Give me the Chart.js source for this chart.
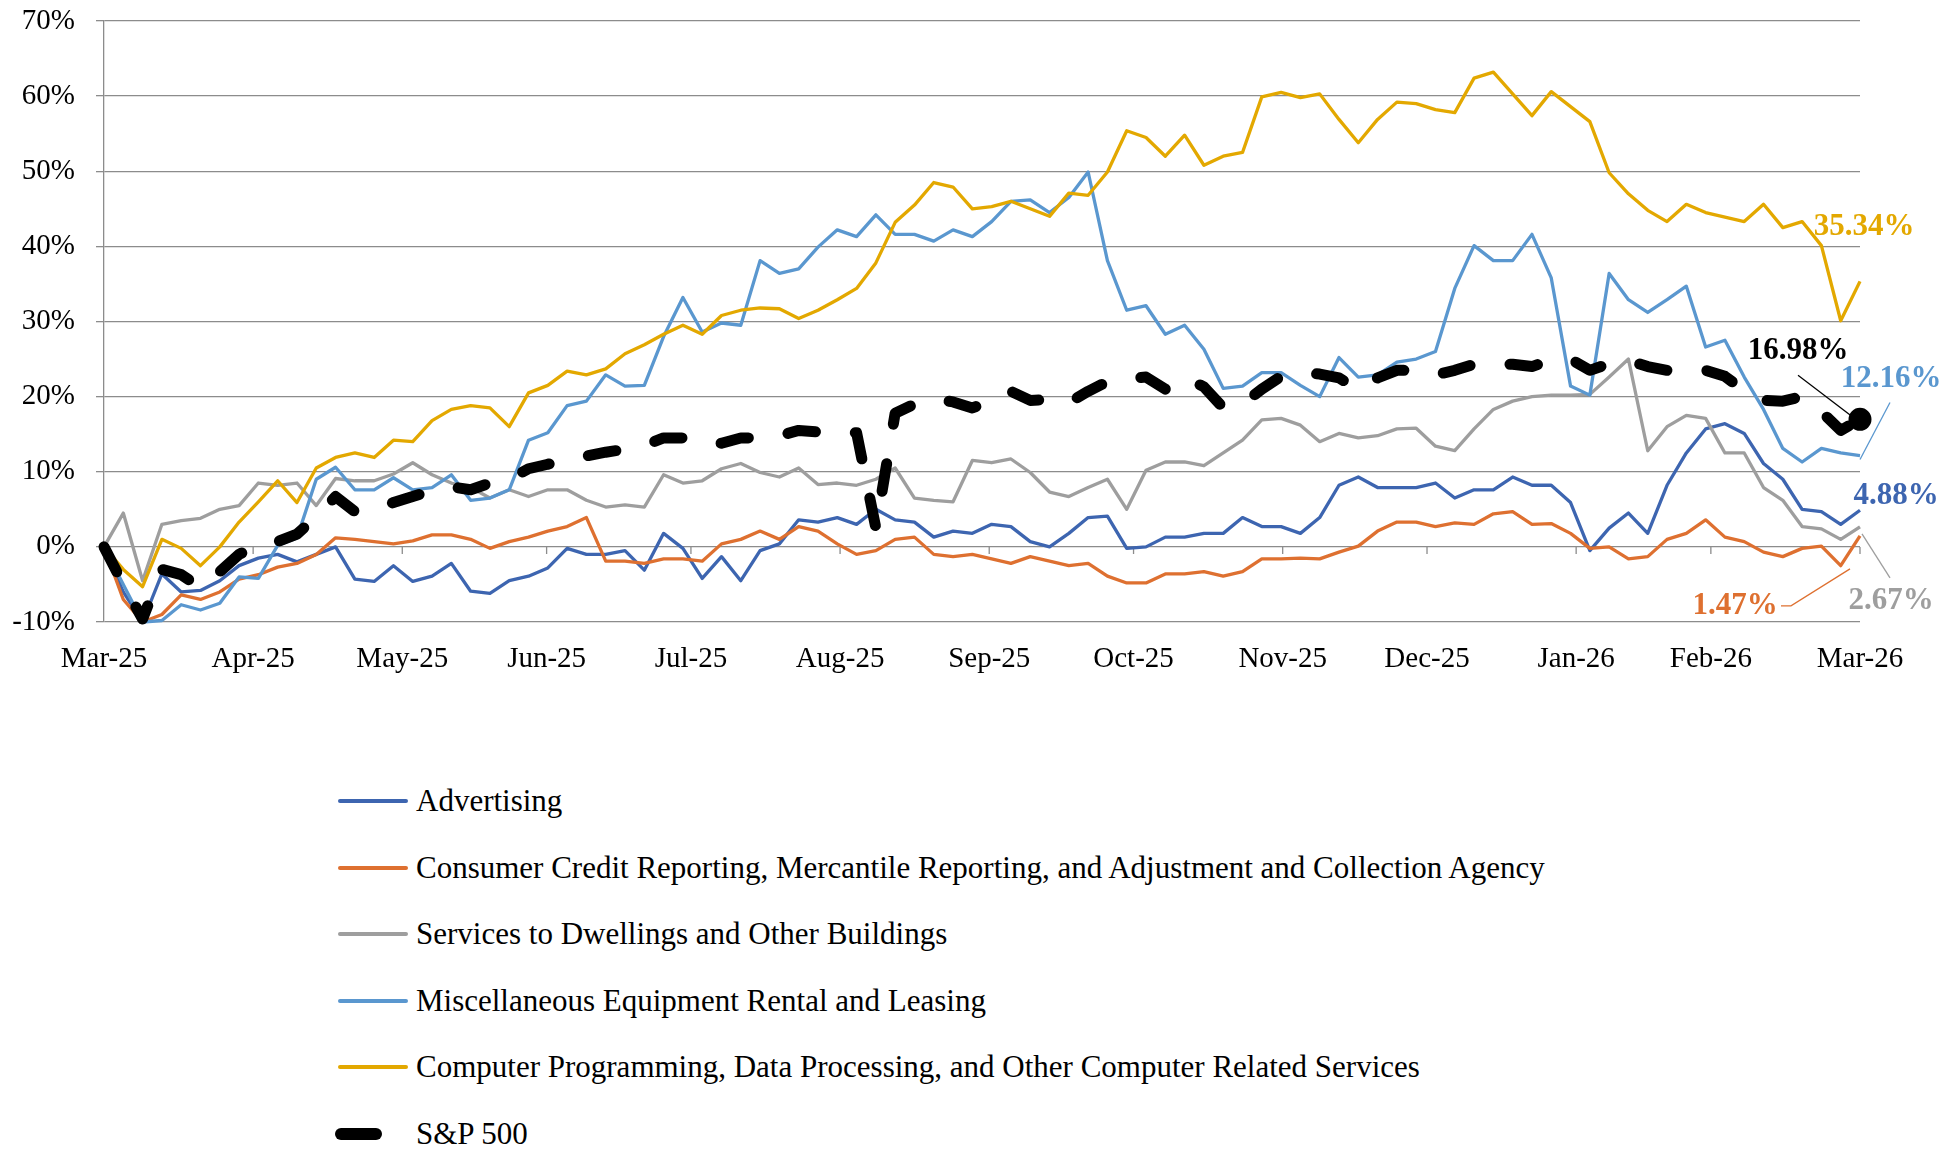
<!DOCTYPE html>
<html>
<head>
<meta charset="utf-8">
<title>Industry returns vs S&amp;P 500</title>
<script src="https://cdn.jsdelivr.net/npm/chart.js@4.4.1/dist/chart.umd.min.js"></script>
<style>
  body { margin: 0; background: #fff; }
  #wrap { position: relative; width: 1953px; height: 1149px; overflow: hidden; }
  #chart { position: absolute; left: 0; top: 0; }
  #legend {
    position: absolute; left: 335px; top: 768px; margin: 0; padding: 0; list-style: none;
    font-family: 'Liberation Serif', serif; font-size: 31px; color: #000;
  }
  #legend li { position: relative; height: 66.5px; line-height: 66.5px; padding-left: 81px; white-space: nowrap; }
  #legend .swatch { position: absolute; top: 50%; }
</style>
</head>
<body>
<div id="wrap">
  <canvas id="chart" width="1953" height="700"></canvas>
  <ul id="legend"></ul>
</div>
<script>
// month ticks (day offset from start) and their labels
const monthDays = [0, 31, 62, 92, 122, 153, 184, 214, 245, 275, 306, 334, 365];
const monthLabels = ["Mar-25", "Apr-25", "May-25", "Jun-25", "Jul-25", "Aug-25", "Sep-25",
                     "Oct-25", "Nov-25", "Dec-25", "Jan-26", "Feb-26", "Mar-26"];

// cumulative return (%), sampled about every 4 days from Mar-25 to Mar-26
const advertising = [
  0, -6, -10, -3.6, -6, -5.8, -4.5, -2.5, -1.5, -1.0,
  -2.0, -1.0, 0, -4.3, -4.6, -2.5, -4.6, -3.9, -2.2, -5.9,
  -6.2, -4.5, -3.9, -2.8, -0.2, -1.0, -1.0, -0.5, -3.1, 1.8,
  -0.2, -4.2, -1.3, -4.5, -0.5, 0.4, 3.6, 3.3, 3.9, 3.0,
  5.0, 3.6, 3.3, 1.3, 2.1, 1.8, 3.0, 2.7, 0.7, 0.0,
  1.8, 3.9, 4.1, -0.2, 0, 1.3, 1.3, 1.8, 1.8, 3.9,
  2.7, 2.7, 1.8, 3.9, 8.2, 9.3, 7.9, 7.9, 7.9, 8.5,
  6.5, 7.6, 7.6, 9.3, 8.2, 8.2, 5.9, -0.5, 2.5, 4.5,
  1.8, 8.2, 12.5, 15.7, 16.4, 15.1, 11.1, 9.0, 5.0, 4.7,
  3.0, 4.88
];
const creditReporting = [
  0, -7, -10, -9.0, -6.4, -7.0, -6.0, -4.3, -3.7, -2.7,
  -2.2, -1.0, 1.2, 1.0, 0.7, 0.4, 0.8, 1.6, 1.6, 1.0,
  -0.2, 0.7, 1.3, 2.1, 2.7, 3.9, -1.9, -1.9, -2.2, -1.6,
  -1.6, -1.9, 0.4, 1.0, 2.1, 1.0, 2.7, 2.1, 0.4, -1.0,
  -0.5, 1.0, 1.3, -1.0, -1.3, -1.0, -1.6, -2.2, -1.3, -1.9,
  -2.5, -2.2, -3.9, -4.8, -4.8, -3.6, -3.6, -3.3, -3.9, -3.3,
  -1.6, -1.6, -1.5, -1.6, -0.7, 0.1, 2.1, 3.3, 3.3, 2.7,
  3.2, 3.0, 4.4, 4.7, 3.0, 3.1, 1.8, -0.2, 0, -1.6,
  -1.3, 1.0, 1.8, 3.6, 1.3, 0.7, -0.7, -1.3, -0.2, 0.1,
  -2.5, 1.47
];
const dwellingServices = [
  0, 4.5, -4.5, 3, 3.5, 3.8, 5, 5.5, 8.5, 8.2,
  8.5, 5.5, 9.1, 8.8, 8.8, 9.7, 11.2, 9.6, 8.5, 7.9,
  6.5, 7.6, 6.7, 7.6, 7.6, 6.2, 5.3, 5.6, 5.3, 9.6,
  8.5, 8.8, 10.4, 11.1, 9.9, 9.3, 10.5, 8.3, 8.5, 8.2,
  9.0, 10.5, 6.5, 6.2, 6.0, 11.5, 11.2, 11.7, 9.9, 7.3,
  6.7, 7.9, 9.0, 5, 10.2, 11.3, 11.3, 10.8, 12.5, 14.2,
  16.9, 17.1, 16.2, 14, 15.1, 14.5, 14.8, 15.7, 15.8, 13.4,
  12.8, 15.7, 18.3, 19.4, 20.0, 20.2, 20.2, 20.3, 22.6, 25,
  12.8, 16.0, 17.5, 17.1, 12.5, 12.5, 7.9, 6.2, 2.7, 2.4,
  1.0, 2.67
];
const equipmentRental = [
  0, -5, -10, -9.8, -7.7, -8.4, -7.5, -4, -4.2, 0.2,
  1.2, 9, 10.6, 7.6, 7.6, 9.2, 7.6, 7.9, 9.6, 6.2,
  6.5, 7.6, 14.2, 15.2, 18.8, 19.4, 22.9, 21.4, 21.5, 28,
  33.2, 28.6, 29.8, 29.5, 38.1, 36.4, 37, 39.9, 42.2, 41.3,
  44.2, 41.6, 41.6, 40.7, 42.2, 41.3, 43.3, 46, 46.2, 44.5,
  46.5, 49.9, 38.1, 31.5, 32.1, 28.3, 29.5, 26.3, 21.1, 21.4,
  23.2, 23.2, 21.5, 20, 25.2, 22.6, 22.9, 24.6, 25.0, 26,
  34.4, 40.1, 38.1, 38.1, 41.6, 35.8, 21.4, 20.2, 36.4, 32.9,
  31.2, 32.9, 34.7, 26.6, 27.5, 22.6, 18.3, 13.1, 11.3, 13.1,
  12.5, 12.16
];
const computerServices = [
  0, -3, -5.3, 1, -0.2, -2.5, 0, 3.3, 6, 8.8,
  5.9, 10.5, 11.9, 12.5, 11.9, 14.2, 14, 16.8, 18.3, 18.8,
  18.5, 16.0, 20.5, 21.5, 23.4, 22.9, 23.7, 25.7, 26.9, 28.3,
  29.5, 28.3, 30.8, 31.5, 31.8, 31.7, 30.4, 31.5, 32.9, 34.4,
  37.8, 43.2, 45.5, 48.5, 47.9, 45.0, 45.3, 46, 45.0, 44,
  47.1, 46.8, 49.9, 55.4, 54.5, 52.0, 54.8, 50.8, 52.0, 52.5,
  59.9, 60.5, 59.8, 60.3, 56.9, 53.8, 56.9, 59.2, 59.0, 58.2,
  57.8, 62.4, 63.2, 60.3, 57.4, 60.6, 58.6, 56.6, 49.8, 47,
  44.8, 43.3, 45.6, 44.5, 43.9, 43.3, 45.6, 42.5, 43.3, 40.1,
  30.1, 35.34
];
const sp500 = [
  0, -5, -9.6, -3, -3.7, -5.4, -3.3, -1.0, 0.3, 0.7,
  1.7, 4, 6.7, 4.7, 5, 5.9, 6.7, 7.5, 8, 7.6,
  8.5, 9, 10.4, 11, 11.5, 12.1, 12.6, 13, 13.5, 14.5,
  14.5, 13.7, 13.8, 14.5, 14.5, 14.8, 15.5, 15.3, 15, 15.2,
  2.5, 17.8, 19, 19.7, 19.3, 18.5, 19.5, 20.7, 19.5, 19.6,
  19.2, 20.7, 22, 22.4, 22.6, 21, 22.6, 21.3, 18.5, 19,
  21, 22.7, 23.2, 23, 22.5, 20.9, 22.5, 23.5, 23.5, 22.9,
  23.5, 24.3, 24.3, 24.3, 24, 24.9, 25, 23.5, 24.4, 24.8,
  24, 23.5, 23.6, 23.5, 22.7, 20.8, 19.5, 19.4, 20, 18,
  15.5, 16.98
];

const totalDays = 365;
const step = totalDays / (sp500.length - 1);

function toPoints(values) {
    return values.map((v, i) => ({ x: i * step, y: v }));
}

const serifFont = "'Liberation Serif', 'Times New Roman', serif";
Chart.defaults.font.family = serifFont;
Chart.defaults.font.size = 29;
Chart.defaults.color = "#000";

function lineSet(label, values, color, order, tag) {
    return {
        label: label,
        data: toPoints(values),
        borderColor: color,
        backgroundColor: color,
        borderWidth: 3.3,
        pointRadius: 0,
        tension: 0,
        borderJoinStyle: "round",
        clip: false,
        order: order,
        endTag: tag
    };
}

const datasets = [
    lineSet("Advertising", advertising, "#3d65b0", 5, { dx: 36, dy: -14 }),
    lineSet("Consumer Credit Reporting, Mercantile Reporting, and Adjustment and Collection Agency",
        creditReporting, "#de7030", 4, { dx: -125, dy: 70, leader: [[-79, 70], [-69, 70], [-10, 33]] }),
    lineSet("Services to Dwellings and Other Buildings", dwellingServices, "#9e9e9e", 3,
        { dx: 31, dy: 74, leader: [[2, 7], [30, 51]] }),
    lineSet("Miscellaneous Equipment Rental and Leasing", equipmentRental, "#5a97cf", 2,
        { dx: 31, dy: -77, leader: [[0, 4], [30, -53]] }),
    lineSet("Computer Programming, Data Processing, and Other Computer Related Services",
        computerServices, "#e3a800", 1, { dx: 4, dy: -54 })
];

const spSet = lineSet("S&P 500", sp500, "#000", 0, { dx: -62, dy: -68, leader: [[-3, 1], [-62, -44]] });
spSet.borderWidth = 11;
spSet.borderDash = [28, 40];
spSet.borderCapStyle = "round";
spSet.dashed = true;
spSet.pointRadius = (c) => c.dataIndex === sp500.length - 1 ? 6 : 0;
datasets.push(spSet);

// value labels at the right end, with thin leader lines
const endLabels = {
    id: "endLabels",
    afterDatasetsDraw(chart) {
        const ctx = chart.ctx;
        chart.data.datasets.forEach((ds, i) => {
            const tag = ds.endTag;
            if (!tag) return;
            const meta = chart.getDatasetMeta(i);
            const pt = meta.data[meta.data.length - 1];
            const last = ds.data[ds.data.length - 1].y;
            ctx.save();
            if (tag.leader) {
                ctx.strokeStyle = ds.borderColor;
                ctx.lineWidth = 1.3;
                ctx.beginPath();
                tag.leader.forEach((p, k) => {
                    if (k === 0) ctx.moveTo(pt.x + p[0], pt.y + p[1]);
                    else ctx.lineTo(pt.x + p[0], pt.y + p[1]);
                });
                ctx.stroke();
            }
            ctx.font = "bold 31px " + serifFont;
            ctx.fillStyle = ds.borderColor;
            ctx.textAlign = "center";
            ctx.textBaseline = "middle";
            ctx.fillText(last.toFixed(2) + "%", pt.x + tag.dx, pt.y + tag.dy);
            ctx.restore();
        });
    }
};

// small month tick marks sitting on the 0% line
const zeroTicks = {
    id: "zeroTicks",
    beforeDatasetsDraw(chart) {
        const ctx = chart.ctx;
        const x = chart.scales.x;
        const y0 = chart.scales.y.getPixelForValue(0);
        ctx.save();
        ctx.strokeStyle = "#8c8c8c";
        ctx.lineWidth = 1.3;
        ctx.beginPath();
        monthDays.forEach(d => {
            const px = x.getPixelForValue(d);
            ctx.moveTo(px, y0);
            ctx.lineTo(px, y0 + 7);
        });
        ctx.stroke();
        ctx.restore();
    }
};

// one legend entry per row, below the chart
const htmlLegend = {
    id: "htmlLegend",
    afterUpdate(chart) {
        const ul = document.getElementById("legend");
        ul.innerHTML = "";
        chart.data.datasets.forEach(ds => {
            const li = document.createElement("li");
            const sw = document.createElement("span");
            sw.className = "swatch";
            sw.style.background = ds.borderColor;
            if (ds.dashed) {
                sw.style.left = "0px";
                sw.style.width = "47px";
                sw.style.height = "12px";
                sw.style.marginTop = "-6px";
                sw.style.borderRadius = "6px";
            } else {
                sw.style.left = "3px";
                sw.style.width = "70px";
                sw.style.height = "4px";
                sw.style.marginTop = "-2px";
                sw.style.borderRadius = "2px";
            }
            li.appendChild(sw);
            li.appendChild(document.createTextNode(ds.label));
            ul.appendChild(li);
        });
    }
};

const gridGrey = "#8c8c8c";

const chart = new Chart(document.getElementById("chart"), {
    type: "line",
    data: { datasets: datasets },
    options: {
        responsive: false,
        animation: false,
        layout: { padding: { top: 21, right: 93, bottom: 0, left: 0 } },
        plugins: {
            legend: { display: false },
            tooltip: { enabled: false }
        },
        scales: {
            x: {
                type: "linear",
                min: 0,
                max: totalDays,
                grid: { display: false, drawTicks: false },
                border: { display: false },
                afterBuildTicks: (scale) => {
                    scale.ticks = monthDays.map(d => ({ value: d }));
                },
                afterFit: (scale) => { scale.height = 78; },
                ticks: {
                    autoSkip: false,
                    maxRotation: 0,
                    padding: 20,
                    callback: (value, index) => monthLabels[index]
                }
            },
            y: {
                min: -10,
                max: 70,
                afterFit: (scale) => {
                    scale.width = 104;
                    scale.paddingTop = 0;
                    scale.paddingBottom = 0;
                },
                grid: { color: gridGrey, lineWidth: 1.3, tickLength: 8 },
                border: { display: true, color: gridGrey, width: 1.3 },
                ticks: {
                    stepSize: 10,
                    padding: 21,
                    callback: (value) => value + "%"
                }
            }
        }
    },
    plugins: [zeroTicks, endLabels, htmlLegend]
});
</script>
</body>
</html>
